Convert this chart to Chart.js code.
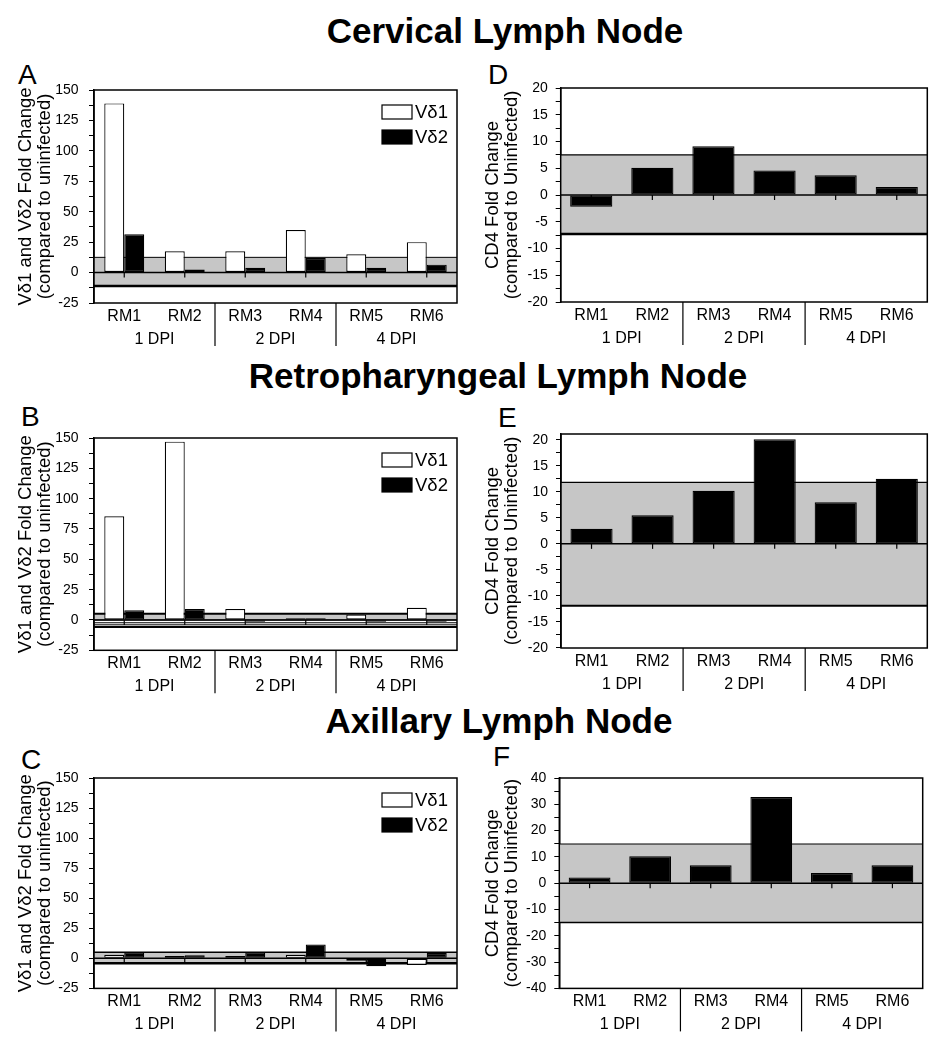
<!DOCTYPE html>
<html>
<head>
<meta charset="utf-8">
<script src="https://cdn.jsdelivr.net/npm/chart.js@4.4.1/dist/chart.umd.min.js"></script>
<style>
  body { margin: 0; background: #fff; width: 942px; height: 1050px; position: relative; overflow: hidden;
         font-family: 'Liberation Sans', Arial, sans-serif; color: #000; }
  .sec { position: absolute; width: 600px; text-align: center; font-weight: bold; font-size: 35px; line-height: 1; }
  .let { position: absolute; font-size: 28px; line-height: 1; }
  canvas { position: absolute; }
</style>
</head>
<body>
<div class="sec" style="left:205px; top:13px">Cervical Lymph Node</div>
<div class="sec" style="left:198px; top:358px">Retropharyngeal Lymph Node</div>
<div class="sec" style="left:199px; top:703px">Axillary Lymph Node</div>

<div class="let" style="left:18px; top:61px">A</div>
<div class="let" style="left:488px; top:61px">D</div>
<div class="let" style="left:21px; top:403px">B</div>
<div class="let" style="left:498px; top:404px">E</div>
<div class="let" style="left:21px; top:746px">C</div>
<div class="let" style="left:493px; top:743px">F</div>

<canvas id="chartA" width="470" height="303"></canvas>
<canvas id="chartD" width="472" height="304"></canvas>
<canvas id="chartB" width="470" height="302"></canvas>
<canvas id="chartE" width="472" height="304"></canvas>
<canvas id="chartC" width="470" height="300"></canvas>
<canvas id="chartF" width="472" height="300"></canvas>

<script>
// ---- data ----
var rmLabels = ['RM1', 'RM2', 'RM3', 'RM4', 'RM5', 'RM6'];
var dpiLabels = ['1 DPI', '2 DPI', '4 DPI'];
var seriesNames = ['V\u03b41', 'V\u03b42'];

// Cervical lymph node
var cervicalVd1 = [139, 17.5, 17.5, 35, 15, 25];
var cervicalVd2 = [31.5, 2.5, 4, 12, 4, 6.5];
var cervicalCd4 = [-2.2, 5.1, 9.1, 4.6, 3.7, 1.5];
// Retropharyngeal lymph node
var retroVd1 = [85.5, 147, 9, 1.5, 4.5, 10];
var retroVd2 = [8, 9, -1.5, 1.5, -1.5, -1.5];
var retroCd4 = [2.9, 5.5, 10.2, 20.1, 8, 12.5];
// Axillary lymph node
var axillaryVd1 = [3, 2, 2, 3, -2, -5.5];
var axillaryVd2 = [5, 2.5, 5, 11.5, -6.5, 4.5];
var axillaryCd4 = [2.2, 10.2, 6.8, 32.8, 3.9, 6.8];

// uninfected range (grey band), [low, high]
var bandA = [-11, 12.5];
var bandB = [0, 5.2];
var bandC = [-4, 5];
var bandD = [-7.3, 7.5];
var bandE = [-11.9, 11.8];
var bandF = [-14.9, 14.9];
var extraLinesB = [-2.3, -4, -5.7];

var vdTitle = ['V\u03b41 and V\u03b42 Fold Change', '(compared to uninfected)'];
var cd4Title = ['CD4 Fold Change', '(compared to Uninfected)'];

Chart.defaults.font.family = "'Liberation Sans', Arial, sans-serif";
Chart.defaults.color = '#000';

// grey band, zero line, frame, group separators and legend
var panelDecor = {
  id: 'panelDecor',
  beforeDatasetsDraw: function (chart, args, opts) {
    var ctx = chart.ctx, a = chart.chartArea, y = chart.scales.y;
    var yHi = y.getPixelForValue(opts.band[1]);
    var yLo = y.getPixelForValue(opts.band[0]);
    ctx.save();
    ctx.fillStyle = '#c6c6c6';
    ctx.fillRect(a.left, yHi, a.right - a.left, yLo - yHi);
    ctx.strokeStyle = '#000';
    function hline(v, w) {
      var py = y.getPixelForValue(v);
      ctx.lineWidth = w;
      ctx.beginPath(); ctx.moveTo(a.left, py); ctx.lineTo(a.right, py); ctx.stroke();
    }
    hline(opts.band[1], opts.hiWidth);
    hline(opts.band[0], opts.loWidth);
    (opts.extraLines || []).forEach(function (v, i, arr) {
      hline(v, i === arr.length - 1 ? 2 : 1);
    });
    ctx.restore();
  },
  afterDatasetsDraw: function (chart, args, opts) {
    var ctx = chart.ctx, a = chart.chartArea, x = chart.scales.x, y = chart.scales.y;
    ctx.save();
    ctx.strokeStyle = '#000';
    // zero line + ticks at category centres
    var y0 = y.getPixelForValue(0);
    ctx.lineWidth = 1.5;
    ctx.beginPath(); ctx.moveTo(a.left, y0); ctx.lineTo(a.right, y0); ctx.stroke();
    ctx.lineWidth = 1.2;
    rmLabels.forEach(function (l, i) {
      var px = x.getPixelForValue(i);
      ctx.beginPath(); ctx.moveTo(px, y0); ctx.lineTo(px, y0 + 5); ctx.stroke();
    });
    // frame
    ctx.lineWidth = 1.5;
    ctx.strokeRect(a.left, a.top, a.right - a.left, a.bottom - a.top);
    // separators between DPI groups
    ctx.lineWidth = 1.2;
    [1, 3].forEach(function (i) {
      var px = (x.getPixelForValue(i) + x.getPixelForValue(i + 1)) / 2;
      ctx.beginPath(); ctx.moveTo(px, a.bottom); ctx.lineTo(px, a.bottom + 43); ctx.stroke();
    });
    // legend
    if (opts.legend) {
      var tops = [15, 40];
      ctx.font = "18.5px 'Liberation Sans', Arial, sans-serif";
      ctx.textBaseline = 'middle';
      ctx.textAlign = 'left';
      chart.data.datasets.forEach(function (ds, i) {
        var bx = a.right - 75, by = a.top + tops[i];
        ctx.fillStyle = ds.backgroundColor;
        ctx.fillRect(bx, by, 30, 14);
        ctx.lineWidth = 1.2;
        ctx.strokeRect(bx, by, 30, 14);
        ctx.fillStyle = '#000';
        ctx.fillText(ds.label, bx + 33, by + 7.5);
      });
    }
    ctx.restore();
  }
};

function makePanel(id, geo, datasets, yOpt, decor, title, titlePad, catPct, tickPad) {
  var canvas = document.getElementById(id);
  var top = geo.T - 40;
  canvas.style.left = geo.cl + 'px';
  canvas.style.top = top + 'px';
  var cw = canvas.width, ch = canvas.height;
  new Chart(canvas, {
    type: 'bar',
    data: { labels: rmLabels, datasets: datasets },
    plugins: [panelDecor],
    options: {
      responsive: false,
      animation: false,
      devicePixelRatio: 1,
      datasets: { bar: { categoryPercentage: catPct, barPercentage: 1, borderColor: '#000', borderWidth: 1.2, borderSkipped: false } },
      layout: { padding: { left: 0, top: 40, right: cw - (geo.R - geo.cl), bottom: ch - (geo.B - top) - 46 } },
      plugins: { legend: { display: false }, tooltip: { enabled: false }, panelDecor: decor },
      scales: {
        x: {
          type: 'category', offset: true, weight: 0,
          grid: { display: false, drawTicks: false }, border: { display: false },
          ticks: { font: { size: 16 }, color: '#000', padding: 3.7, maxRotation: 0, autoSkip: false },
          afterFit: function (s) { s.height = 26; }
        },
        x2: {
          type: 'category', labels: dpiLabels, offset: true, position: 'bottom', weight: 1,
          grid: { display: false, drawTicks: false }, border: { display: false },
          ticks: { font: { size: 16 }, color: '#000', padding: 0.5, maxRotation: 0, autoSkip: false },
          afterFit: function (s) { s.height = 20; }
        },
        y: {
          type: 'linear', min: yOpt.min, max: yOpt.max,
          grid: { display: true, drawOnChartArea: false, drawTicks: true, tickLength: 5, color: '#000', lineWidth: 1 },
          border: { display: true, color: '#000', width: 1.5 },
          ticks: {
            stepSize: yOpt.step, autoSkip: false, includeBounds: false,
            font: { size: 14 }, color: '#000', padding: tickPad,
            callback: function (v) { return v % yOpt.labelStep === 0 ? String(v) : ''; }
          },
          title: { display: true, text: title, font: { size: 18.5, lineHeight: 1.03 }, color: '#000', padding: { top: titlePad, bottom: 0 } },
          afterFit: function (s) { s.width = geo.L - geo.cl; }
        }
      }
    }
  });
}

function vdSets(v1, v2) {
  return [
    { label: seriesNames[0], data: v1, backgroundColor: '#ffffff' },
    { label: seriesNames[1], data: v2, backgroundColor: '#000000' }
  ];
}
function cdSets(v) {
  return [{ label: 'CD4', data: v, backgroundColor: '#000000' }];
}

var vdAxis = { min: -25, max: 150, step: 12.5, labelStep: 25 };

makePanel('chartA', { cl: 0, L: 94, R: 457, T: 90, B: 303 }, vdSets(cervicalVd1, cervicalVd2), vdAxis,
  { band: bandA, hiWidth: 1, loWidth: 2.5, legend: true }, vdTitle, 16.5, 0.66, 10.5);
makePanel('chartB', { cl: 0, L: 94, R: 457, T: 437.7, B: 650 }, vdSets(retroVd1, retroVd2), vdAxis,
  { band: bandB, hiWidth: 2, loWidth: 1, extraLines: extraLinesB, legend: true }, vdTitle, 16.5, 0.66, 10.5);
makePanel('chartC', { cl: 0, L: 94, R: 457, T: 778.3, B: 988.7 }, vdSets(axillaryVd1, axillaryVd2), vdAxis,
  { band: bandC, hiWidth: 1.5, loWidth: 2.5, legend: true }, vdTitle, 16.5, 0.66, 10.5);

makePanel('chartD', { cl: 470, L: 560.7, R: 927.3, T: 87.7, B: 301.7 }, cdSets(cervicalCd4),
  { min: -20, max: 20, step: 2.5, labelStep: 5 },
  { band: bandD, hiWidth: 1.2, loWidth: 2.5 }, cd4Title, 13.5, 0.69, 8);
makePanel('chartE', { cl: 470, L: 561, R: 927.3, T: 434.3, B: 648.3 }, cdSets(retroCd4),
  { min: -20, max: 21.1, step: 2.5, labelStep: 5 },
  { band: bandE, hiWidth: 1.2, loWidth: 2 }, cd4Title, 13.5, 0.69, 8);
makePanel('chartF', { cl: 470, L: 559.3, R: 922.7, T: 778.3, B: 988.7 }, cdSets(axillaryCd4),
  { min: -40, max: 40, step: 5, labelStep: 10 },
  { band: bandF, hiWidth: 1.2, loWidth: 1.5 }, cd4Title, 13.5, 0.69, 8);
</script>
</body>
</html>
